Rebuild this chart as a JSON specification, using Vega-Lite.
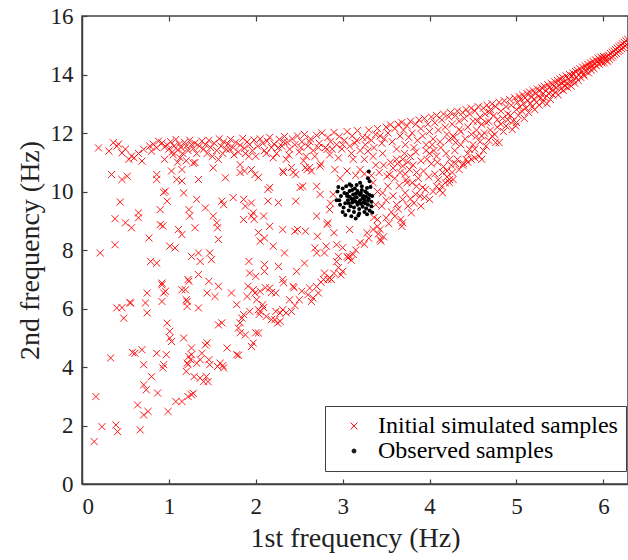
{
"$schema":"https://vega.github.io/schema/vega-lite/v6.json",
"width":546,"height":468,
"autosize":{"type":"none"},
"padding":{"left":82,"top":16,"right":0,"bottom":76},
"background":"white",
"config":{
 "font":"Liberation Serif",
 "view":{"stroke":"#404040","strokeWidth":1.5},
 "axis":{"grid":false,"domainColor":"#404040","domainWidth":1.5,"tickColor":"#404040","tickWidth":1.2,"labelColor":"#222222","titleColor":"#222222","labelFont":"Liberation Serif","titleFont":"Liberation Serif","labelFontSize":23,"titleFontSize":28,"titleFontWeight":"normal","titlePadding":6},
 "legend":{"orient":"none","legendX":243,"legendY":390,"labelFont":"Liberation Serif","labelFontSize":24,"labelColor":"#000000","labelLimit":400,"strokeColor":"#404040","fillColor":"white","padding":8,"symbolOffset":9,"labelOffset":12,"rowPadding":1,"symbolStrokeWidth":1}
},
"data":{"values":[
{"x":0.19,"y":11.49,"g":"s"},{"x":0.31,"y":11.38,"g":"s"},{"x":0.36,"y":11.67,"g":"s"},{"x":0.40,"y":11.55,"g":"s"},{"x":0.46,"y":11.32,"g":"s"},{"x":0.54,"y":11.10,"g":"s"},{"x":0.57,"y":11.21,"g":"s"},{"x":0.60,"y":11.15,"g":"s"},{"x":0.69,"y":11.04,"g":"s"},{"x":0.71,"y":11.44,"g":"s"},{"x":0.78,"y":11.55,"g":"s"},{"x":0.82,"y":11.61,"g":"s"},{"x":0.88,"y":11.72,"g":"s"},{"x":0.80,"y":11.38,"g":"s"},{"x":0.86,"y":11.50,"g":"s"},{"x":0.42,"y":11.62,"g":"s"},{"x":0.50,"y":11.45,"g":"s"},{"x":0.65,"y":11.30,"g":"s"},{"x":0.92,"y":11.66,"g":"s"},{"x":0.95,"y":11.52,"g":"s"},
{"x":0.98,"y":11.60,"g":"s"},{"x":1.00,"y":11.45,"g":"s"},{"x":1.02,"y":11.70,"g":"s"},{"x":1.04,"y":11.35,"g":"s"},{"x":1.06,"y":11.55,"g":"s"},{"x":1.08,"y":11.78,"g":"s"},{"x":1.10,"y":11.42,"g":"s"},{"x":1.12,"y":11.62,"g":"s"},{"x":1.14,"y":11.50,"g":"s"},{"x":1.16,"y":11.30,"g":"s"},{"x":1.18,"y":11.68,"g":"s"},{"x":1.20,"y":11.55,"g":"s"},{"x":1.22,"y":11.40,"g":"s"},{"x":1.24,"y":11.75,"g":"s"},{"x":1.26,"y":11.60,"g":"s"},{"x":1.05,"y":11.25,"g":"s"},{"x":1.13,"y":11.15,"g":"s"},{"x":1.28,"y":11.47,"g":"s"},{"x":1.30,"y":11.65,"g":"s"},{"x":1.32,"y":11.30,"g":"s"},{"x":1.35,"y":11.55,"g":"s"},{"x":1.38,"y":11.72,"g":"s"},{"x":1.40,"y":11.45,"g":"s"},{"x":1.42,"y":11.60,"g":"s"},{"x":1.10,"y":11.00,"g":"s"},{"x":1.20,"y":11.05,"g":"s"},{"x":0.95,"y":11.10,"g":"s"},{"x":1.28,"y":10.97,"g":"s"},
{"x":1.46,"y":11.75,"g":"s"},{"x":1.48,"y":11.50,"g":"s"},{"x":1.52,"y":11.65,"g":"s"},{"x":1.55,"y":11.40,"g":"s"},{"x":1.58,"y":11.80,"g":"s"},{"x":1.60,"y":11.55,"g":"s"},{"x":1.63,"y":11.70,"g":"s"},{"x":1.66,"y":11.44,"g":"s"},{"x":1.68,"y":11.62,"g":"s"},{"x":1.71,"y":11.78,"g":"s"},{"x":1.74,"y":11.50,"g":"s"},{"x":1.77,"y":11.68,"g":"s"},{"x":1.80,"y":11.35,"g":"s"},{"x":1.82,"y":11.58,"g":"s"},{"x":1.85,"y":11.82,"g":"s"},{"x":1.87,"y":11.48,"g":"s"},{"x":1.90,"y":11.70,"g":"s"},{"x":1.93,"y":11.60,"g":"s"},{"x":1.96,"y":11.40,"g":"s"},{"x":1.98,"y":11.76,"g":"s"},{"x":1.62,"y":11.30,"g":"s"},{"x":1.75,"y":11.25,"g":"s"},{"x":1.50,"y":11.20,"g":"s"},{"x":1.92,"y":11.20,"g":"s"},
{"x":2.02,"y":11.55,"g":"s"},{"x":2.05,"y":11.80,"g":"s"},{"x":2.08,"y":11.65,"g":"s"},{"x":2.10,"y":11.40,"g":"s"},{"x":2.13,"y":11.72,"g":"s"},{"x":2.16,"y":11.85,"g":"s"},{"x":2.18,"y":11.50,"g":"s"},{"x":2.21,"y":11.62,"g":"s"},{"x":2.24,"y":11.30,"g":"s"},{"x":2.27,"y":11.78,"g":"s"},{"x":2.30,"y":11.55,"g":"s"},{"x":2.33,"y":11.88,"g":"s"},{"x":2.36,"y":11.68,"g":"s"},{"x":2.39,"y":11.45,"g":"s"},{"x":2.42,"y":11.80,"g":"s"},{"x":2.45,"y":11.60,"g":"s"},{"x":2.48,"y":11.90,"g":"s"},{"x":2.50,"y":11.35,"g":"s"},{"x":2.20,"y":11.15,"g":"s"},{"x":2.35,"y":11.10,"g":"s"},
{"x":2.53,"y":11.70,"g":"s"},{"x":2.56,"y":11.95,"g":"s"},{"x":2.60,"y":11.55,"g":"s"},{"x":2.63,"y":11.80,"g":"s"},{"x":2.66,"y":11.40,"g":"s"},{"x":2.70,"y":11.92,"g":"s"},{"x":2.73,"y":11.65,"g":"s"},{"x":2.76,"y":12.00,"g":"s"},{"x":2.80,"y":11.50,"g":"s"},{"x":2.83,"y":11.85,"g":"s"},{"x":2.86,"y":11.70,"g":"s"},{"x":2.90,"y":12.02,"g":"s"},{"x":2.93,"y":11.60,"g":"s"},{"x":2.96,"y":11.88,"g":"s"},{"x":2.99,"y":11.45,"g":"s"},{"x":2.68,"y":11.20,"g":"s"},{"x":2.85,"y":11.25,"g":"s"},{"x":2.55,"y":11.05,"g":"s"},{"x":2.75,"y":10.95,"g":"s"},{"x":2.95,"y":11.15,"g":"s"},
{"x":3.02,"y":11.75,"g":"s"},{"x":3.05,"y":12.05,"g":"s"},{"x":3.08,"y":11.55,"g":"s"},{"x":3.11,"y":11.90,"g":"s"},{"x":3.14,"y":11.65,"g":"s"},{"x":3.17,"y":12.08,"g":"s"},{"x":3.20,"y":11.40,"g":"s"},{"x":3.23,"y":11.85,"g":"s"},{"x":3.26,"y":11.60,"g":"s"},{"x":3.30,"y":12.10,"g":"s"},{"x":3.33,"y":11.75,"g":"s"},{"x":3.36,"y":11.50,"g":"s"},{"x":3.40,"y":12.15,"g":"s"},{"x":3.43,"y":11.90,"g":"s"},{"x":3.46,"y":11.30,"g":"s"},{"x":3.50,"y":12.20,"g":"s"},{"x":3.25,"y":11.10,"g":"s"},{"x":3.35,"y":11.20,"g":"s"},{"x":3.10,"y":11.30,"g":"s"},{"x":3.45,"y":11.65,"g":"s"},
{"x":1.44,"y":11.30,"g":"s"},{"x":1.57,"y":11.10,"g":"s"},{"x":1.70,"y":11.45,"g":"s"},{"x":1.88,"y":11.30,"g":"s"},{"x":2.00,"y":11.20,"g":"s"},{"x":2.12,"y":11.30,"g":"s"},{"x":2.26,"y":11.50,"g":"s"},{"x":2.38,"y":11.25,"g":"s"},{"x":2.52,"y":11.50,"g":"s"},{"x":2.58,"y":11.20,"g":"s"},{"x":2.72,"y":11.50,"g":"s"},{"x":2.88,"y":11.45,"g":"s"},{"x":3.00,"y":11.60,"g":"s"},{"x":3.12,"y":11.10,"g":"s"},{"x":3.28,"y":11.85,"g":"s"},{"x":3.38,"y":11.95,"g":"s"},{"x":3.48,"y":11.80,"g":"s"},{"x":3.16,"y":11.75,"g":"s"},{"x":2.62,"y":11.70,"g":"s"},{"x":2.32,"y":11.70,"g":"s"},
{"x":0.34,"y":10.58,"g":"s"},{"x":0.46,"y":10.41,"g":"s"},{"x":0.52,"y":10.52,"g":"s"},{"x":0.86,"y":10.58,"g":"s"},{"x":0.86,"y":10.41,"g":"s"},{"x":1.03,"y":10.70,"g":"s"},{"x":1.15,"y":10.75,"g":"s"},{"x":1.30,"y":10.99,"g":"s"},{"x":1.15,"y":10.36,"g":"s"},{"x":1.09,"y":10.41,"g":"s"},{"x":1.34,"y":10.41,"g":"s"},{"x":1.51,"y":10.81,"g":"s"},{"x":1.65,"y":10.47,"g":"s"},{"x":1.82,"y":10.92,"g":"s"},{"x":1.87,"y":10.70,"g":"s"},{"x":1.99,"y":10.58,"g":"s"},{"x":1.95,"y":10.75,"g":"s"},{"x":0.96,"y":10.01,"g":"s"},{"x":1.17,"y":9.95,"g":"s"},{"x":0.98,"y":9.67,"g":"s"},{"x":0.90,"y":9.38,"g":"s"},{"x":0.44,"y":9.64,"g":"s"},{"x":0.38,"y":9.07,"g":"s"},{"x":0.50,"y":8.93,"g":"s"},{"x":0.57,"y":8.76,"g":"s"},{"x":0.65,"y":9.27,"g":"s"},{"x":0.65,"y":9.10,"g":"s"},{"x":0.90,"y":8.87,"g":"s"},{"x":0.93,"y":8.82,"g":"s"},{"x":1.11,"y":8.70,"g":"s"},{"x":1.15,"y":8.53,"g":"s"},{"x":1.23,"y":9.38,"g":"s"},{"x":1.24,"y":9.16,"g":"s"},{"x":1.32,"y":9.73,"g":"s"},{"x":1.42,"y":9.44,"g":"s"},{"x":1.30,"y":8.76,"g":"s"},{"x":1.51,"y":9.16,"g":"s"},{"x":1.55,"y":8.93,"g":"s"},{"x":1.56,"y":8.76,"g":"s"},{"x":1.57,"y":8.36,"g":"s"},{"x":1.61,"y":9.67,"g":"s"},{"x":1.63,"y":9.55,"g":"s"},{"x":1.74,"y":9.79,"g":"s"},{"x":1.88,"y":9.50,"g":"s"},{"x":1.95,"y":9.61,"g":"s"},{"x":1.95,"y":9.16,"g":"s"},{"x":1.98,"y":9.05,"g":"s"},{"x":1.86,"y":9.04,"g":"s"},{"x":0.38,"y":8.18,"g":"s"},{"x":0.77,"y":8.41,"g":"s"},{"x":1.01,"y":8.13,"g":"s"},{"x":1.07,"y":8.07,"g":"s"},{"x":0.21,"y":7.90,"g":"s"},{"x":0.94,"y":9.97,"g":"s"},{"x":1.82,"y":10.65,"g":"s"},{"x":1.86,"y":9.73,"g":"s"},{"x":2.14,"y":10.07,"g":"s"},{"x":2.09,"y":9.16,"g":"s"},{"x":2.16,"y":8.81,"g":"s"},{"x":2.32,"y":10.65,"g":"s"},{"x":2.46,"y":10.58,"g":"s"},{"x":2.46,"y":9.67,"g":"s"},{"x":2.48,"y":8.70,"g":"s"},{"x":2.57,"y":8.64,"g":"s"},{"x":2.62,"y":10.82,"g":"s"},{"x":2.71,"y":8.47,"g":"s"},{"x":2.83,"y":8.93,"g":"s"},{"x":2.90,"y":8.59,"g":"s"},
{"x":2.03,"y":10.48,"g":"s"},{"x":2.16,"y":10.14,"g":"s"},{"x":2.14,"y":9.67,"g":"s"},{"x":2.26,"y":9.62,"g":"s"},{"x":2.31,"y":10.70,"g":"s"},{"x":2.41,"y":10.82,"g":"s"},{"x":2.51,"y":10.14,"g":"s"},{"x":2.57,"y":10.82,"g":"s"},{"x":2.64,"y":10.70,"g":"s"},{"x":2.70,"y":10.18,"g":"s"},{"x":2.74,"y":9.90,"g":"s"},{"x":2.82,"y":11.44,"g":"s"},{"x":2.85,"y":9.38,"g":"s"},{"x":2.91,"y":10.75,"g":"s"},{"x":3.20,"y":10.75,"g":"s"},{"x":3.29,"y":11.38,"g":"s"},{"x":3.35,"y":10.30,"g":"s"},{"x":3.40,"y":10.00,"g":"s"},{"x":3.38,"y":9.55,"g":"s"},{"x":2.43,"y":10.65,"g":"s"},{"x":2.54,"y":10.18,"g":"s"},{"x":2.70,"y":9.16,"g":"s"},{"x":2.31,"y":8.70,"g":"s"},{"x":2.74,"y":10.87,"g":"s"},{"x":2.59,"y":10.75,"g":"s"},
{"x":3.36,"y":9.11,"g":"s"},{"x":3.40,"y":8.81,"g":"s"},{"x":3.43,"y":8.36,"g":"s"},{"x":3.44,"y":8.30,"g":"s"},{"x":3.47,"y":8.45,"g":"s"},{"x":3.41,"y":8.55,"g":"s"},{"x":3.52,"y":10.18,"g":"s"},{"x":3.54,"y":10.58,"g":"s"},{"x":3.68,"y":8.81,"g":"s"},{"x":3.79,"y":9.27,"g":"s"},{"x":3.95,"y":10.07,"g":"s"},{"x":4.00,"y":9.73,"g":"s"},{"x":4.14,"y":10.18,"g":"s"},
{"x":3.51,"y":10.52,"g":"s"},{"x":3.62,"y":11.10,"g":"s"},{"x":3.69,"y":10.87,"g":"s"},{"x":3.72,"y":10.60,"g":"s"},{"x":3.75,"y":11.00,"g":"s"},{"x":3.85,"y":10.65,"g":"s"},{"x":3.97,"y":11.10,"g":"s"},{"x":4.02,"y":10.95,"g":"s"},{"x":4.08,"y":10.18,"g":"s"},{"x":4.12,"y":10.05,"g":"s"},{"x":3.92,"y":10.14,"g":"s"},{"x":3.46,"y":9.95,"g":"s"},{"x":3.45,"y":9.50,"g":"s"},{"x":3.50,"y":9.70,"g":"s"},{"x":3.40,"y":9.04,"g":"s"},{"x":3.43,"y":8.70,"g":"s"},{"x":3.69,"y":8.93,"g":"s"},{"x":3.67,"y":9.05,"g":"s"},{"x":3.28,"y":8.59,"g":"s"},{"x":3.08,"y":8.70,"g":"s"},{"x":3.20,"y":8.25,"g":"s"},{"x":3.00,"y":8.08,"g":"s"},{"x":3.05,"y":7.78,"g":"s"},{"x":2.79,"y":7.90,"g":"s"},{"x":2.45,"y":8.64,"g":"s"},{"x":2.33,"y":7.90,"g":"s"},{"x":2.20,"y":8.13,"g":"s"},{"x":2.10,"y":8.41,"g":"s"},{"x":2.03,"y":8.60,"g":"s"},{"x":1.97,"y":9.27,"g":"s"},{"x":2.89,"y":9.90,"g":"s"},{"x":2.86,"y":9.60,"g":"s"},{"x":2.82,"y":8.87,"g":"s"},{"x":4.23,"y":10.41,"g":"s"},{"x":4.18,"y":10.30,"g":"s"},
{"x":3.69,"y":11.10,"g":"s"},{"x":3.77,"y":10.75,"g":"s"},{"x":3.74,"y":10.30,"g":"s"},{"x":3.69,"y":9.73,"g":"s"},{"x":3.85,"y":10.18,"g":"s"},{"x":4.08,"y":11.21,"g":"s"},{"x":4.05,"y":11.40,"g":"s"},{"x":4.00,"y":11.30,"g":"s"},{"x":4.23,"y":11.10,"g":"s"},{"x":4.15,"y":10.65,"g":"s"},{"x":4.27,"y":10.41,"g":"s"},{"x":4.34,"y":10.75,"g":"s"},{"x":4.42,"y":11.10,"g":"s"},{"x":4.46,"y":11.44,"g":"s"},{"x":4.54,"y":11.89,"g":"s"},{"x":4.48,"y":11.95,"g":"s"},{"x":4.34,"y":12.12,"g":"s"},{"x":4.27,"y":11.90,"g":"s"},{"x":4.30,"y":11.67,"g":"s"},{"x":4.57,"y":11.21,"g":"s"},{"x":4.65,"y":11.55,"g":"s"},{"x":4.72,"y":11.89,"g":"s"},{"x":4.80,"y":11.67,"g":"s"},{"x":4.88,"y":12.24,"g":"s"},{"x":4.85,"y":12.05,"g":"s"},{"x":4.95,"y":12.12,"g":"s"},{"x":5.00,"y":12.36,"g":"s"},{"x":4.63,"y":12.00,"g":"s"},{"x":4.65,"y":12.36,"g":"s"},{"x":4.55,"y":12.40,"g":"s"},{"x":4.69,"y":12.70,"g":"s"},{"x":3.89,"y":9.84,"g":"s"},{"x":4.23,"y":10.30,"g":"s"},{"x":4.20,"y":10.50,"g":"s"},{"x":4.15,"y":9.95,"g":"s"},{"x":4.48,"y":11.10,"g":"s"},{"x":4.76,"y":11.67,"g":"s"},{"x":4.99,"y":12.24,"g":"s"},
{"x":3.58,"y":9.85,"g":"s"},{"x":3.62,"y":9.55,"g":"s"},{"x":3.65,"y":10.20,"g":"s"},{"x":3.60,"y":10.45,"g":"s"},{"x":3.56,"y":9.30,"g":"s"},{"x":3.72,"y":9.95,"g":"s"},{"x":3.80,"y":10.30,"g":"s"},{"x":3.82,"y":9.60,"g":"s"},
{"x":3.55,"y":11.00,"g":"s"},{"x":3.58,"y":10.80,"g":"s"},{"x":3.63,"y":10.95,"g":"s"},{"x":3.66,"y":10.65,"g":"s"},{"x":3.71,"y":11.30,"g":"s"},{"x":3.73,"y":10.40,"g":"s"},{"x":3.78,"y":11.20,"g":"s"},{"x":3.81,"y":10.90,"g":"s"},{"x":3.84,"y":11.35,"g":"s"},{"x":3.87,"y":10.45,"g":"s"},{"x":3.90,"y":11.05,"g":"s"},{"x":3.93,"y":10.70,"g":"s"},{"x":3.96,"y":11.40,"g":"s"},{"x":3.99,"y":10.50,"g":"s"},{"x":4.03,"y":11.60,"g":"s"},{"x":4.06,"y":10.60,"g":"s"},{"x":4.09,"y":11.00,"g":"s"},{"x":4.13,"y":11.50,"g":"s"},{"x":4.16,"y":10.85,"g":"s"},{"x":4.19,"y":11.30,"g":"s"},{"x":4.22,"y":11.75,"g":"s"},{"x":4.25,"y":10.90,"g":"s"},{"x":4.29,"y":11.40,"g":"s"},{"x":4.32,"y":11.10,"g":"s"},{"x":4.36,"y":11.60,"g":"s"},{"x":4.39,"y":10.95,"g":"s"},{"x":4.41,"y":11.80,"g":"s"},{"x":4.44,"y":11.30,"g":"s"},{"x":4.50,"y":11.60,"g":"s"},{"x":4.52,"y":11.45,"g":"s"},{"x":4.58,"y":11.70,"g":"s"},{"x":4.60,"y":11.90,"g":"s"},{"x":4.62,"y":11.40,"g":"s"},{"x":4.68,"y":11.75,"g":"s"},{"x":4.70,"y":12.10,"g":"s"},{"x":4.75,"y":11.95,"g":"s"},{"x":4.78,"y":12.45,"g":"s"},{"x":4.82,"y":12.30,"g":"s"},{"x":4.90,"y":12.45,"g":"s"},{"x":4.93,"y":12.60,"g":"s"},{"x":3.47,"y":10.90,"g":"s"},{"x":3.42,"y":10.65,"g":"s"},{"x":3.38,"y":10.90,"g":"s"},{"x":3.33,"y":10.55,"g":"s"},{"x":3.25,"y":10.60,"g":"s"},{"x":3.15,"y":10.55,"g":"s"},{"x":3.05,"y":10.70,"g":"s"},{"x":2.97,"y":10.45,"g":"s"},
{"x":3.50,"y":9.10,"g":"s"},{"x":3.53,"y":8.90,"g":"s"},{"x":3.60,"y":9.15,"g":"s"},{"x":3.64,"y":9.40,"g":"s"},{"x":3.75,"y":9.50,"g":"s"},{"x":3.78,"y":9.75,"g":"s"},{"x":3.84,"y":9.90,"g":"s"},{"x":3.90,"y":9.50,"g":"s"},{"x":3.94,"y":9.80,"g":"s"},{"x":4.04,"y":10.00,"g":"s"},{"x":4.10,"y":10.40,"g":"s"},{"x":4.20,"y":10.70,"g":"s"},{"x":4.26,"y":10.65,"g":"s"},{"x":4.30,"y":10.95,"g":"s"},{"x":4.38,"y":10.90,"g":"s"},{"x":4.44,"y":11.00,"g":"s"},{"x":4.52,"y":11.15,"g":"s"},{"x":4.60,"y":11.10,"g":"s"},
{"x":1.26,"y":7.78,"g":"s"},{"x":1.34,"y":7.90,"g":"s"},{"x":1.36,"y":7.61,"g":"s"},{"x":1.47,"y":7.90,"g":"s"},{"x":1.49,"y":7.67,"g":"s"},{"x":0.79,"y":7.61,"g":"s"},{"x":0.86,"y":7.55,"g":"s"},{"x":1.92,"y":7.61,"g":"s"},{"x":1.93,"y":7.21,"g":"s"},{"x":1.34,"y":7.16,"g":"s"},{"x":0.92,"y":6.87,"g":"s"},{"x":1.23,"y":6.93,"g":"s"},{"x":1.19,"y":6.64,"g":"s"},{"x":1.46,"y":6.93,"g":"s"},{"x":1.57,"y":6.76,"g":"s"},{"x":1.53,"y":6.41,"g":"s"},{"x":1.44,"y":6.53,"g":"s"},{"x":0.96,"y":6.59,"g":"s"},{"x":0.92,"y":6.24,"g":"s"},{"x":0.75,"y":6.53,"g":"s"},{"x":0.73,"y":6.19,"g":"s"},{"x":0.75,"y":5.85,"g":"s"},{"x":0.56,"y":6.19,"g":"s"},{"x":0.40,"y":6.02,"g":"s"},{"x":0.48,"y":5.67,"g":"s"},{"x":1.21,"y":6.24,"g":"s"},{"x":1.21,"y":6.07,"g":"s"},{"x":1.34,"y":6.02,"g":"s"},{"x":0.98,"y":5.50,"g":"s"},{"x":1.01,"y":5.22,"g":"s"},{"x":1.01,"y":4.99,"g":"s"},{"x":1.17,"y":4.99,"g":"s"},{"x":1.57,"y":5.44,"g":"s"},{"x":1.78,"y":6.13,"g":"s"},{"x":1.80,"y":5.33,"g":"s"},{"x":1.84,"y":5.67,"g":"s"},{"x":1.90,"y":6.41,"g":"s"},{"x":1.99,"y":6.53,"g":"s"},{"x":2.03,"y":5.96,"g":"s"},{"x":2.04,"y":5.80,"g":"s"},{"x":1.88,"y":5.10,"g":"s"},{"x":1.95,"y":4.70,"g":"s"},{"x":1.67,"y":4.65,"g":"s"},{"x":1.78,"y":4.42,"g":"s"},{"x":1.80,"y":4.40,"g":"s"},{"x":1.44,"y":4.82,"g":"s"},{"x":1.42,"y":4.75,"g":"s"},{"x":1.38,"y":4.47,"g":"s"},{"x":1.26,"y":4.65,"g":"s"},{"x":1.23,"y":4.36,"g":"s"},{"x":1.25,"y":4.25,"g":"s"},{"x":1.46,"y":4.25,"g":"s"},{"x":1.59,"y":4.13,"g":"s"},{"x":1.62,"y":4.05,"g":"s"},{"x":0.86,"y":4.47,"g":"s"},{"x":0.69,"y":4.59,"g":"s"},{"x":0.61,"y":4.47,"g":"s"},{"x":0.58,"y":4.50,"g":"s"},{"x":0.33,"y":4.31,"g":"s"},{"x":0.71,"y":4.08,"g":"s"},{"x":0.94,"y":4.08,"g":"s"},
{"x":2.05,"y":8.30,"g":"s"},{"x":2.68,"y":8.07,"g":"s"},{"x":2.70,"y":7.90,"g":"s"},{"x":2.81,"y":8.13,"g":"s"},{"x":2.93,"y":8.18,"g":"s"},{"x":3.06,"y":7.73,"g":"s"},{"x":3.08,"y":7.78,"g":"s"},{"x":2.95,"y":7.78,"g":"s"},{"x":2.93,"y":7.60,"g":"s"},{"x":3.00,"y":7.27,"g":"s"},{"x":2.98,"y":7.15,"g":"s"},{"x":2.79,"y":7.21,"g":"s"},{"x":2.83,"y":6.99,"g":"s"},{"x":2.87,"y":6.99,"g":"s"},{"x":2.56,"y":7.55,"g":"s"},{"x":2.47,"y":7.27,"g":"s"},{"x":2.31,"y":6.99,"g":"s"},{"x":2.26,"y":7.44,"g":"s"},{"x":2.10,"y":7.50,"g":"s"},{"x":2.10,"y":7.27,"g":"s"},{"x":2.00,"y":7.10,"g":"s"},{"x":2.43,"y":6.76,"g":"s"},{"x":2.53,"y":6.59,"g":"s"},{"x":2.62,"y":6.70,"g":"s"},{"x":2.72,"y":6.53,"g":"s"},{"x":2.66,"y":6.36,"g":"s"},{"x":2.39,"y":6.30,"g":"s"},{"x":2.41,"y":5.90,"g":"s"},{"x":2.31,"y":5.96,"g":"s"},{"x":2.28,"y":5.85,"g":"s"},{"x":2.22,"y":5.62,"g":"s"},{"x":2.25,"y":5.50,"g":"s"},{"x":2.12,"y":5.73,"g":"s"},{"x":2.08,"y":6.13,"g":"s"},{"x":2.05,"y":5.90,"g":"s"},{"x":2.01,"y":6.30,"g":"s"},{"x":1.97,"y":6.64,"g":"s"},{"x":2.16,"y":6.70,"g":"s"},{"x":2.18,"y":6.55,"g":"s"},{"x":2.03,"y":5.16,"g":"s"},{"x":1.97,"y":4.82,"g":"s"},
{"x":2.60,"y":6.47,"g":"s"},{"x":2.78,"y":6.99,"g":"s"},{"x":2.00,"y":5.17,"g":"s"},{"x":1.82,"y":5.17,"g":"s"},{"x":1.63,"y":3.97,"g":"s"},{"x":1.56,"y":4.02,"g":"s"},{"x":1.26,"y":4.42,"g":"s"},{"x":1.22,"y":4.08,"g":"s"},{"x":1.20,"y":3.85,"g":"s"},{"x":1.22,"y":2.99,"g":"s"},{"x":1.15,"y":2.82,"g":"s"},{"x":1.08,"y":2.82,"g":"s"},{"x":0.99,"y":2.48,"g":"s"},{"x":1.03,"y":4.87,"g":"s"},{"x":0.93,"y":3.97,"g":"s"},{"x":0.87,"y":3.11,"g":"s"},{"x":0.80,"y":3.67,"g":"s"},{"x":0.76,"y":2.48,"g":"s"},{"x":0.71,"y":2.36,"g":"s"},{"x":0.74,"y":3.22,"g":"s"},{"x":0.71,"y":3.39,"g":"s"},{"x":0.64,"y":2.70,"g":"s"},{"x":0.67,"y":1.85,"g":"s"},{"x":0.46,"y":6.03,"g":"s"},{"x":0.55,"y":6.20,"g":"s"},{"x":0.39,"y":2.02,"g":"s"},{"x":0.41,"y":1.79,"g":"s"},{"x":0.23,"y":1.96,"g":"s"},{"x":0.16,"y":2.99,"g":"s"},{"x":0.14,"y":1.45,"g":"s"},{"x":0.97,"y":4.42,"g":"s"},{"x":1.22,"y":6.99,"g":"s"},{"x":1.20,"y":6.30,"g":"s"},{"x":0.92,"y":6.81,"g":"s"},{"x":0.94,"y":6.53,"g":"s"},{"x":1.15,"y":6.64,"g":"s"},{"x":1.36,"y":4.25,"g":"s"},{"x":1.43,"y":3.67,"g":"s"},{"x":1.45,"y":3.50,"g":"s"},{"x":1.29,"y":3.67,"g":"s"},{"x":1.26,"y":3.05,"g":"s"},{"x":1.61,"y":5.51,"g":"s"},{"x":1.82,"y":5.51,"g":"s"},{"x":1.86,"y":5.79,"g":"s"},{"x":1.93,"y":5.90,"g":"s"},{"x":2.09,"y":6.03,"g":"s"},{"x":2.18,"y":5.62,"g":"s"},{"x":2.23,"y":6.53,"g":"s"},{"x":2.23,"y":5.90,"g":"s"},{"x":2.28,"y":5.56,"g":"s"},{"x":2.32,"y":6.88,"g":"s"},{"x":2.44,"y":6.71,"g":"s"},{"x":2.64,"y":6.24,"g":"s"},{"x":1.72,"y":6.53,"g":"s"},{"x":1.91,"y":6.76,"g":"s"},{"x":2.05,"y":6.59,"g":"s"},{"x":2.11,"y":6.71,"g":"s"},
{"x":1.21,"y":4.13,"g":"s"},{"x":1.32,"y":4.13,"g":"s"},{"x":1.47,"y":4.08,"g":"s"},{"x":1.36,"y":3.62,"g":"s"},{"x":1.40,"y":3.50,"g":"s"},{"x":1.28,"y":3.10,"g":"s"},
{"x":3.10,"y":7.65,"g":"s"},{"x":3.12,"y":7.85,"g":"s"},{"x":3.15,"y":8.00,"g":"s"},{"x":3.25,"y":8.20,"g":"s"},{"x":3.30,"y":8.40,"g":"s"},{"x":3.35,"y":8.70,"g":"s"},{"x":2.95,"y":7.40,"g":"s"},{"x":2.90,"y":7.20,"g":"s"},{"x":2.85,"y":7.05,"g":"s"},{"x":2.75,"y":6.90,"g":"s"},{"x":2.70,"y":6.75,"g":"s"},{"x":2.50,"y":6.30,"g":"s"},{"x":2.45,"y":6.10,"g":"s"},{"x":2.35,"y":5.85,"g":"s"},
{"x":3.52,"y":12.00,"g":"s"},{"x":3.55,"y":12.28,"g":"s"},{"x":3.57,"y":11.70,"g":"s"},{"x":3.60,"y":12.15,"g":"s"},{"x":3.62,"y":11.45,"g":"s"},{"x":3.64,"y":12.30,"g":"s"},{"x":3.66,"y":11.90,"g":"s"},{"x":3.68,"y":12.36,"g":"s"},{"x":3.70,"y":12.10,"g":"s"},{"x":3.72,"y":11.60,"g":"s"},{"x":3.74,"y":12.25,"g":"s"},{"x":3.76,"y":11.85,"g":"s"},{"x":3.78,"y":12.40,"g":"s"},{"x":3.80,"y":12.00,"g":"s"},{"x":3.82,"y":11.50,"g":"s"},{"x":3.84,"y":12.30,"g":"s"},{"x":3.86,"y":11.75,"g":"s"},{"x":3.88,"y":12.45,"g":"s"},{"x":3.90,"y":12.15,"g":"s"},{"x":3.92,"y":11.90,"g":"s"},{"x":3.94,"y":12.50,"g":"s"},{"x":3.96,"y":11.60,"g":"s"},{"x":3.98,"y":12.30,"g":"s"},{"x":4.00,"y":12.05,"g":"s"},
{"x":4.02,"y":12.55,"g":"s"},{"x":4.04,"y":11.80,"g":"s"},{"x":4.06,"y":12.35,"g":"s"},{"x":4.08,"y":12.60,"g":"s"},{"x":4.10,"y":12.10,"g":"s"},{"x":4.12,"y":11.70,"g":"s"},{"x":4.14,"y":12.45,"g":"s"},{"x":4.16,"y":12.65,"g":"s"},{"x":4.18,"y":12.20,"g":"s"},{"x":4.20,"y":11.95,"g":"s"},{"x":4.22,"y":12.55,"g":"s"},{"x":4.24,"y":12.70,"g":"s"},{"x":4.26,"y":12.30,"g":"s"},{"x":4.28,"y":11.85,"g":"s"},{"x":4.30,"y":12.60,"g":"s"},{"x":4.32,"y":12.75,"g":"s"},{"x":4.34,"y":12.40,"g":"s"},{"x":4.36,"y":12.05,"g":"s"},{"x":4.38,"y":12.70,"g":"s"},{"x":4.40,"y":12.50,"g":"s"},{"x":4.42,"y":12.80,"g":"s"},{"x":4.44,"y":12.20,"g":"s"},{"x":4.46,"y":12.65,"g":"s"},{"x":4.48,"y":12.85,"g":"s"},{"x":4.50,"y":12.40,"g":"s"},
{"x":4.52,"y":12.75,"g":"s"},{"x":4.54,"y":12.10,"g":"s"},{"x":4.56,"y":12.90,"g":"s"},{"x":4.58,"y":12.55,"g":"s"},{"x":4.60,"y":12.30,"g":"s"},{"x":4.62,"y":12.85,"g":"s"},{"x":4.64,"y":12.65,"g":"s"},{"x":4.66,"y":12.95,"g":"s"},{"x":4.68,"y":12.40,"g":"s"},{"x":4.70,"y":12.80,"g":"s"},{"x":4.72,"y":13.00,"g":"s"},{"x":4.74,"y":12.60,"g":"s"},{"x":4.76,"y":12.90,"g":"s"},{"x":4.78,"y":12.20,"g":"s"},{"x":4.80,"y":13.05,"g":"s"},{"x":4.82,"y":12.75,"g":"s"},{"x":4.84,"y":12.50,"g":"s"},{"x":4.86,"y":13.10,"g":"s"},{"x":4.88,"y":12.90,"g":"s"},{"x":4.90,"y":12.65,"g":"s"},{"x":4.92,"y":13.15,"g":"s"},{"x":4.94,"y":12.95,"g":"s"},{"x":4.96,"y":12.40,"g":"s"},{"x":4.98,"y":13.20,"g":"s"},{"x":5.00,"y":12.80,"g":"s"},
{"x":5.01,"y":13.05,"g":"s"},{"x":5.02,"y":12.60,"g":"s"},{"x":5.03,"y":13.25,"g":"s"},{"x":5.04,"y":12.90,"g":"s"},{"x":5.05,"y":13.15,"g":"s"},{"x":5.06,"y":12.75,"g":"s"},{"x":5.07,"y":13.30,"g":"s"},{"x":5.08,"y":13.00,"g":"s"},{"x":5.09,"y":12.50,"g":"s"},{"x":5.10,"y":13.20,"g":"s"},{"x":5.11,"y":12.85,"g":"s"},{"x":5.12,"y":13.35,"g":"s"},{"x":5.13,"y":13.10,"g":"s"},{"x":5.14,"y":12.70,"g":"s"},{"x":5.15,"y":13.40,"g":"s"},{"x":5.16,"y":13.00,"g":"s"},{"x":5.17,"y":13.25,"g":"s"},{"x":5.18,"y":12.90,"g":"s"},{"x":5.19,"y":13.45,"g":"s"},{"x":5.20,"y":13.15,"g":"s"},{"x":5.21,"y":12.80,"g":"s"},{"x":5.22,"y":13.35,"g":"s"},{"x":5.23,"y":13.05,"g":"s"},{"x":5.24,"y":13.50,"g":"s"},{"x":5.25,"y":13.25,"g":"s"},{"x":5.26,"y":12.95,"g":"s"},{"x":5.27,"y":13.45,"g":"s"},{"x":5.28,"y":13.20,"g":"s"},{"x":5.29,"y":13.55,"g":"s"},{"x":5.30,"y":13.05,"g":"s"},{"x":5.31,"y":13.35,"g":"s"},{"x":5.32,"y":13.60,"g":"s"},{"x":5.33,"y":13.20,"g":"s"},{"x":5.34,"y":13.45,"g":"s"},{"x":5.35,"y":13.00,"g":"s"},{"x":5.36,"y":13.65,"g":"s"},{"x":5.37,"y":13.35,"g":"s"},{"x":5.38,"y":13.55,"g":"s"},{"x":5.39,"y":13.15,"g":"s"},{"x":5.40,"y":13.70,"g":"s"},{"x":5.41,"y":13.45,"g":"s"},{"x":5.42,"y":13.30,"g":"s"},{"x":5.43,"y":13.60,"g":"s"},{"x":5.44,"y":13.75,"g":"s"},{"x":5.45,"y":13.40,"g":"s"},{"x":5.46,"y":13.55,"g":"s"},{"x":5.47,"y":13.80,"g":"s"},{"x":5.48,"y":13.30,"g":"s"},{"x":5.49,"y":13.65,"g":"s"},{"x":5.50,"y":13.85,"g":"s"},
{"x":5.51,"y":13.50,"g":"s"},{"x":5.52,"y":13.70,"g":"s"},{"x":5.53,"y":13.90,"g":"s"},{"x":5.54,"y":13.45,"g":"s"},{"x":5.55,"y":13.75,"g":"s"},{"x":5.56,"y":13.60,"g":"s"},{"x":5.57,"y":13.95,"g":"s"},{"x":5.58,"y":13.70,"g":"s"},{"x":5.59,"y":13.55,"g":"s"},{"x":5.60,"y":13.85,"g":"s"},{"x":5.61,"y":14.00,"g":"s"},{"x":5.62,"y":13.75,"g":"s"},{"x":5.63,"y":13.60,"g":"s"},{"x":5.64,"y":13.95,"g":"s"},{"x":5.65,"y":14.05,"g":"s"},{"x":5.66,"y":13.80,"g":"s"},{"x":5.67,"y":13.70,"g":"s"},{"x":5.68,"y":14.10,"g":"s"},{"x":5.69,"y":13.90,"g":"s"},{"x":5.70,"y":14.15,"g":"s"},{"x":5.71,"y":13.80,"g":"s"},{"x":5.72,"y":14.00,"g":"s"},{"x":5.73,"y":14.20,"g":"s"},{"x":5.74,"y":13.90,"g":"s"},{"x":5.75,"y":14.10,"g":"s"},{"x":5.76,"y":14.25,"g":"s"},{"x":5.77,"y":14.00,"g":"s"},{"x":5.78,"y":13.95,"g":"s"},{"x":5.79,"y":14.30,"g":"s"},{"x":5.80,"y":14.10,"g":"s"},{"x":5.81,"y":14.20,"g":"s"},{"x":5.82,"y":14.35,"g":"s"},{"x":5.83,"y":14.05,"g":"s"},{"x":5.84,"y":14.25,"g":"s"},{"x":5.85,"y":14.40,"g":"s"},{"x":5.86,"y":14.15,"g":"s"},{"x":5.87,"y":14.30,"g":"s"},{"x":5.88,"y":14.45,"g":"s"},{"x":5.89,"y":14.20,"g":"s"},{"x":5.90,"y":14.35,"g":"s"},{"x":5.91,"y":14.50,"g":"s"},{"x":5.92,"y":14.30,"g":"s"},{"x":5.93,"y":14.45,"g":"s"},{"x":5.94,"y":14.55,"g":"s"},{"x":5.95,"y":14.35,"g":"s"},{"x":5.96,"y":14.50,"g":"s"},{"x":5.97,"y":14.60,"g":"s"},{"x":5.98,"y":14.40,"g":"s"},{"x":5.99,"y":14.55,"g":"s"},{"x":6.00,"y":14.62,"g":"s"},
{"x":6.01,"y":14.40,"g":"s"},{"x":6.02,"y":14.58,"g":"s"},{"x":6.03,"y":14.48,"g":"s"},{"x":6.04,"y":14.62,"g":"s"},{"x":6.05,"y":14.45,"g":"s"},{"x":6.06,"y":14.66,"g":"s"},{"x":6.07,"y":14.52,"g":"s"},{"x":6.08,"y":14.72,"g":"s"},{"x":6.09,"y":14.58,"g":"s"},{"x":6.10,"y":14.76,"g":"s"},{"x":6.11,"y":14.62,"g":"s"},{"x":6.12,"y":14.80,"g":"s"},{"x":6.13,"y":14.68,"g":"s"},{"x":6.14,"y":14.85,"g":"s"},{"x":6.15,"y":14.72,"g":"s"},{"x":6.16,"y":14.90,"g":"s"},{"x":6.17,"y":14.78,"g":"s"},{"x":6.18,"y":14.95,"g":"s"},{"x":6.19,"y":14.82,"g":"s"},{"x":6.20,"y":15.00,"g":"s"},{"x":6.21,"y":14.88,"g":"s"},{"x":6.22,"y":15.05,"g":"s"},{"x":6.23,"y":14.92,"g":"s"},{"x":6.24,"y":15.10,"g":"s"},{"x":6.25,"y":14.98,"g":"s"},{"x":6.26,"y":15.15,"g":"s"},{"x":6.27,"y":15.02,"g":"s"},{"x":6.28,"y":15.20,"g":"s"},
{"x":3.02,"y":9.95,"g":"o"},{"x":3.05,"y":9.85,"g":"o"},{"x":3.08,"y":10.02,"g":"o"},{"x":3.10,"y":9.75,"g":"o"},{"x":3.12,"y":9.90,"g":"o"},{"x":3.14,"y":10.10,"g":"o"},{"x":3.16,"y":9.80,"g":"o"},{"x":3.18,"y":9.95,"g":"o"},{"x":3.20,"y":9.70,"g":"o"},{"x":3.22,"y":10.05,"g":"o"},{"x":3.24,"y":9.85,"g":"o"},{"x":3.26,"y":9.60,"g":"o"},{"x":3.28,"y":9.95,"g":"o"},{"x":3.30,"y":9.75,"g":"o"},{"x":3.32,"y":10.15,"g":"o"},{"x":3.03,"y":9.60,"g":"o"},{"x":3.06,"y":9.70,"g":"o"},{"x":3.09,"y":9.50,"g":"o"},{"x":3.11,"y":9.62,"g":"o"},{"x":3.13,"y":9.45,"g":"o"},{"x":3.15,"y":9.65,"g":"o"},{"x":3.17,"y":9.55,"g":"o"},{"x":3.19,"y":9.40,"g":"o"},{"x":3.21,"y":9.58,"g":"o"},{"x":3.23,"y":9.48,"g":"o"},{"x":3.25,"y":9.72,"g":"o"},{"x":3.27,"y":9.42,"g":"o"},{"x":3.29,"y":9.55,"g":"o"},{"x":3.31,"y":9.88,"g":"o"},{"x":3.33,"y":9.65,"g":"o"},
{"x":3.00,"y":10.10,"g":"o"},{"x":2.98,"y":9.85,"g":"o"},{"x":2.96,"y":9.70,"g":"o"},{"x":2.94,"y":10.00,"g":"o"},{"x":2.97,"y":9.55,"g":"o"},{"x":3.01,"y":9.45,"g":"o"},{"x":3.04,"y":10.18,"g":"o"},{"x":3.07,"y":9.35,"g":"o"},{"x":3.10,"y":10.20,"g":"o"},{"x":3.13,"y":9.30,"g":"o"},{"x":3.16,"y":10.22,"g":"o"},{"x":3.19,"y":9.25,"g":"o"},{"x":3.22,"y":10.18,"g":"o"},{"x":3.25,"y":9.30,"g":"o"},{"x":3.28,"y":10.12,"g":"o"},{"x":3.31,"y":9.35,"g":"o"},{"x":3.34,"y":9.85,"g":"o"},{"x":3.33,"y":9.50,"g":"o"},
{"x":3.05,"y":9.92,"g":"o"},{"x":3.08,"y":9.82,"g":"o"},{"x":3.11,"y":10.05,"g":"o"},{"x":3.14,"y":9.78,"g":"o"},{"x":3.17,"y":10.02,"g":"o"},{"x":3.20,"y":9.88,"g":"o"},{"x":3.23,"y":9.78,"g":"o"},{"x":3.26,"y":10.00,"g":"o"},{"x":3.29,"y":9.68,"g":"o"},{"x":3.12,"y":9.70,"g":"o"},{"x":3.18,"y":9.62,"g":"o"},{"x":3.24,"y":9.62,"g":"o"},{"x":3.15,"y":9.92,"g":"o"},{"x":3.21,"y":9.95,"g":"o"},{"x":3.07,"y":9.60,"g":"o"},{"x":3.27,"y":9.82,"g":"o"},
{"x":3.30,"y":10.68,"g":"o"},{"x":3.29,"y":10.45,"g":"o"},{"x":3.31,"y":10.35,"g":"o"},{"x":3.03,"y":9.20,"g":"o"},{"x":3.10,"y":9.15,"g":"o"},{"x":3.18,"y":9.18,"g":"o"},{"x":3.28,"y":9.22,"g":"o"},{"x":3.34,"y":9.28,"g":"o"},{"x":3.15,"y":9.08,"g":"o"},{"x":2.93,"y":9.70,"g":"o"},{"x":2.95,"y":10.15,"g":"o"},{"x":3.00,"y":9.30,"g":"o"},{"x":3.20,"y":10.30,"g":"o"},{"x":3.08,"y":10.25,"g":"o"}
]},
"encoding":{
 "y":{"field":"y","type":"quantitative","scale":{"domain":[0,16],"nice":false,"zero":false},"axis":{"title":"2nd frequency (Hz)","values":[0,2,4,6,8,10,12,14,16],"tickSize":-5,"labelPadding":14,"labelFont":"Liberation Serif","labelFontSize":23}}
},
"layer":[
 {"transform":[{"filter":"datum.g == 's'"}],
  "mark":{"type":"point","filled":false,"strokeWidth":1,"opacity":0.9,"clip":true},
  "encoding":{
   "x":{"field":"x","type":"quantitative","scale":{"domain":[0,6.2832],"nice":false,"zero":false},"axis":{"orient":"bottom","title":"1st frequency (Hz)","values":[0,1,2,3,4,5,6],"tickSize":-5,"labelPadding":16,"labelFont":"Liberation Serif","labelFontSize":23}},
   "color":{"field":"g","type":"nominal","scale":{"domain":["s","o"],"range":["#ff0000","#000000"]},"legend":{"title":null,"labelExpr":"datum.label == 's' ? 'Initial simulated samples' : 'Observed samples'"}},
   "shape":{"field":"g","type":"nominal","scale":{"domain":["s","o"],"range":["M-1,-1L1,1M-1,1L1,-1","circle"]},"legend":{"title":null,"labelExpr":"datum.label == 's' ? 'Initial simulated samples' : 'Observed samples'"}},
   "size":{"field":"g","type":"nominal","scale":{"domain":["s","o"],"range":[50,16]},"legend":{"title":null,"labelExpr":"datum.label == 's' ? 'Initial simulated samples' : 'Observed samples'"}}
  }},
 {"transform":[{"filter":"datum.g == 'o'"}],
  "mark":{"type":"point","filled":true,"opacity":1},
  "encoding":{
   "x":{"field":"x","type":"quantitative","scale":{"domain":[0,6.2832],"nice":false,"zero":false},"axis":{"orient":"top","labels":false,"title":null,"domain":false,"values":[1,2,3,4,5,6],"tickSize":-5}},
   "color":{"field":"g","type":"nominal","scale":{"domain":["s","o"],"range":["#ff0000","#000000"]},"legend":{"title":null,"labelExpr":"datum.label == 's' ? 'Initial simulated samples' : 'Observed samples'"}},
   "shape":{"field":"g","type":"nominal","scale":{"domain":["s","o"],"range":["M-1,-1L1,1M-1,1L1,-1","circle"]},"legend":{"title":null,"labelExpr":"datum.label == 's' ? 'Initial simulated samples' : 'Observed samples'"}},
   "size":{"field":"g","type":"nominal","scale":{"domain":["s","o"],"range":[50,16]},"legend":{"title":null,"labelExpr":"datum.label == 's' ? 'Initial simulated samples' : 'Observed samples'"}}
  }}
],
"resolve":{"axis":{"x":"independent"}}
}
